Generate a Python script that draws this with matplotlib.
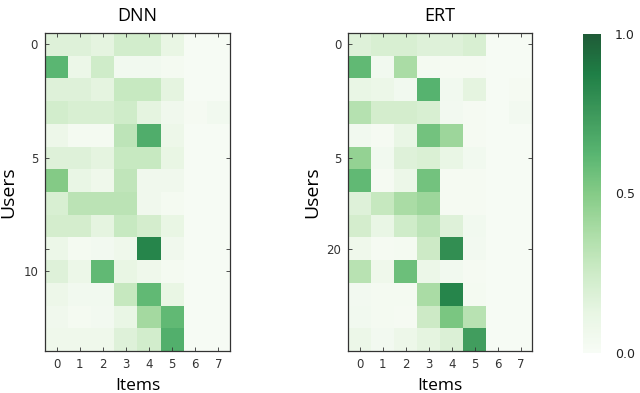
import numpy as np
import matplotlib
matplotlib.use('Agg')
import matplotlib.pyplot as plt

items = [0, 1, 2, 3, 4, 5, 6, 7]

# DNN predicted scores, 14 users x 8 items
dnn = [
    [0.17, 0.17, 0.14, 0.23, 0.23, 0.12, 0.01, 0.01],
    [0.62, 0.09, 0.24, 0.05, 0.05, 0.03, 0.01, 0.01],
    [0.17, 0.17, 0.14, 0.27, 0.27, 0.14, 0.01, 0.01],
    [0.23, 0.20, 0.20, 0.24, 0.14, 0.06, 0.02, 0.05],
    [0.08, 0.03, 0.03, 0.31, 0.66, 0.08, 0.01, 0.01],
    [0.17, 0.17, 0.14, 0.27, 0.27, 0.12, 0.01, 0.01],
    [0.50, 0.11, 0.07, 0.30, 0.06, 0.06, 0.01, 0.01],
    [0.20, 0.32, 0.32, 0.32, 0.06, 0.03, 0.01, 0.01],
    [0.22, 0.22, 0.14, 0.27, 0.22, 0.12, 0.01, 0.01],
    [0.09, 0.03, 0.04, 0.07, 0.84, 0.06, 0.01, 0.01],
    [0.17, 0.09, 0.60, 0.12, 0.07, 0.03, 0.01, 0.01],
    [0.08, 0.05, 0.05, 0.28, 0.60, 0.12, 0.01, 0.01],
    [0.06, 0.03, 0.04, 0.11, 0.40, 0.60, 0.01, 0.01],
    [0.07, 0.07, 0.07, 0.17, 0.23, 0.65, 0.01, 0.01],
]

# ERT predicted scores
ert = [
    [0.17, 0.20, 0.20, 0.17, 0.17, 0.20, 0.01, 0.01],
    [0.60, 0.05, 0.38, 0.03, 0.02, 0.02, 0.01, 0.01],
    [0.11, 0.09, 0.05, 0.63, 0.05, 0.14, 0.01, 0.02],
    [0.34, 0.22, 0.22, 0.20, 0.04, 0.02, 0.01, 0.04],
    [0.05, 0.02, 0.11, 0.55, 0.42, 0.02, 0.01, 0.01],
    [0.45, 0.05, 0.17, 0.19, 0.11, 0.05, 0.01, 0.01],
    [0.60, 0.02, 0.09, 0.55, 0.02, 0.02, 0.01, 0.01],
    [0.17, 0.28, 0.38, 0.42, 0.02, 0.02, 0.01, 0.01],
    [0.22, 0.11, 0.24, 0.31, 0.17, 0.05, 0.01, 0.01],
    [0.07, 0.02, 0.03, 0.25, 0.80, 0.04, 0.01, 0.01],
    [0.33, 0.07, 0.57, 0.09, 0.05, 0.02, 0.01, 0.01],
    [0.04, 0.03, 0.03, 0.38, 0.84, 0.03, 0.01, 0.01],
    [0.05, 0.03, 0.02, 0.25, 0.53, 0.33, 0.01, 0.01],
    [0.09, 0.04, 0.08, 0.14, 0.18, 0.73, 0.01, 0.01],
]

dnn_yticks = [0, 5, 9, 10]
dnn_ylabels = ['0', '5', '', '10']
ert_yticks = [0, 5, 9]
ert_ylabels = ['0', '5', '20']
cbar_ticks = [0.0, 0.5, 1.0]

lab_font = 'Open Sans'

fig = plt.figure(figsize=(6.4, 3.93), dpi=100)

def panel(rect, data, title, yt, yl):
    ax = fig.add_axes(rect)
    im = ax.imshow(np.array(data), cmap='Greens', vmin=0, vmax=1, alpha=0.88,
                   aspect='auto', interpolation='nearest')
    ax.set_xticks(items)
    ax.set_xticklabels([str(i) for i in items])
    ax.set_yticks(yt)
    ax.set_yticklabels(yl)
    ax.tick_params(direction='in', length=3, width=0.6, labelsize=8.5,
                   colors='#333333', top=True, right=True, pad=5)
    for s in ax.spines.values():
        s.set_linewidth(0.9)
        s.set_color('#333333')
    ax.set_title(title, family=lab_font, fontsize=13, pad=9)
    ax.set_xlabel('Items', family=lab_font, fontsize=12.5, labelpad=5)
    ax.set_ylabel('Users', family=lab_font, fontsize=14, labelpad=4)
    return im

im = panel([0.0703, 0.107, 0.289, 0.809], dnn, 'DNN', dnn_yticks, dnn_ylabels)
panel([0.544, 0.107, 0.2875, 0.809], ert, 'ERT', ert_yticks, ert_ylabels)

cax = fig.add_axes([0.911, 0.102, 0.028, 0.812])
cb = fig.colorbar(im, cax=cax, ticks=cbar_ticks)
cb.outline.set_visible(False)
cb.ax.tick_params(length=0, labelsize=9, pad=10, colors='#222222')
cb.ax.set_yticklabels(['0.0', '0.5', '1.0'])

fig.savefig('out.png', dpi=100)
